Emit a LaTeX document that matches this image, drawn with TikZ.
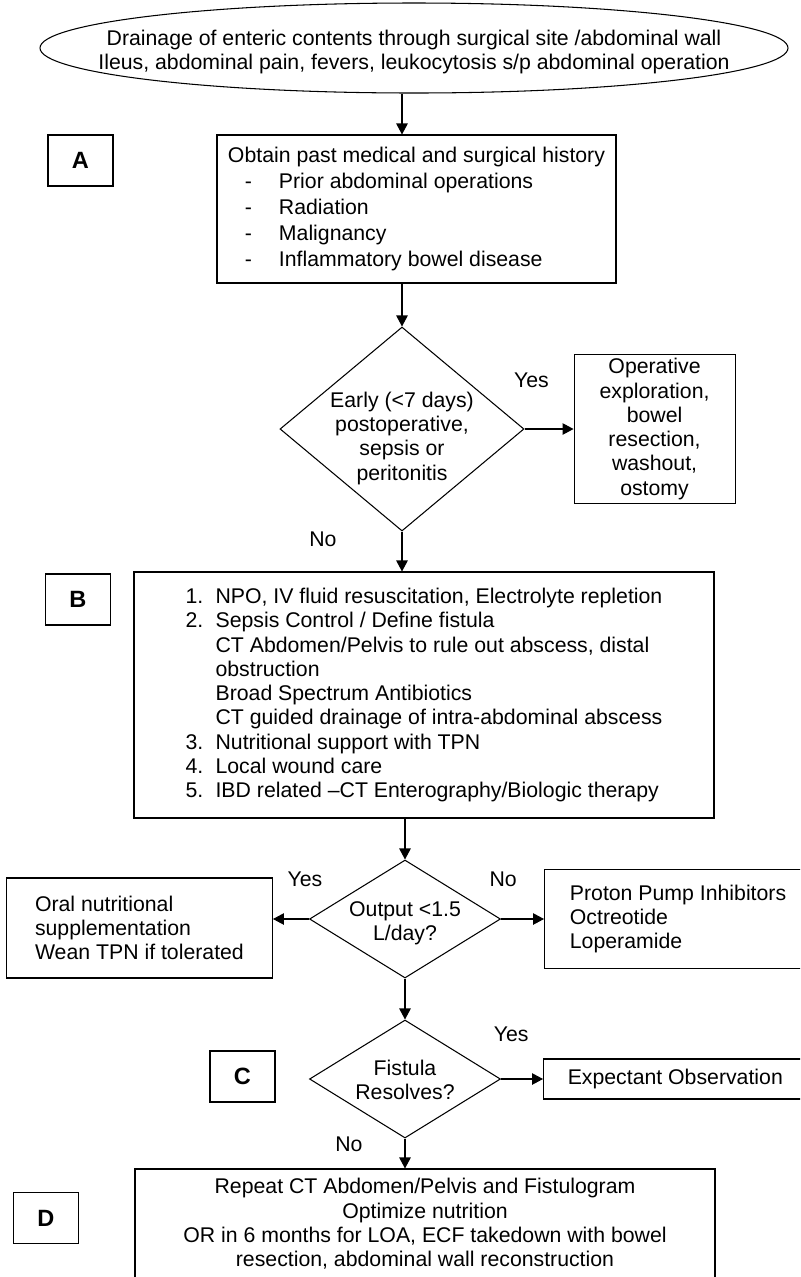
\documentclass[tikz,border=0pt]{standalone}
\usepackage{fontspec}
\setmainfont{Liberation Sans}
\usepackage{tikz}
\usetikzlibrary{arrows.meta}
\usetikzlibrary{shapes.geometric}
\usetikzlibrary{positioning}

\newcommand{\dashitem}[1]{\hspace*{3.4mm}\makebox[6.8mm][l]{-}#1}
\newcommand{\numitem}[2]{\makebox[6mm][l]{#1}#2}
\newcommand{\droptext}[2]{\raisebox{-#1}[\height][\depth]{\begin{tabular}{@{}c@{}}#2\end{tabular}}}

\begin{document}
\begin{tikzpicture}[->,>={Triangle[length=2.2mm,width=2.3mm]},x=0.2mm,y=0.2mm,
  line width=0.6pt,font=\fontsize{12.1pt}{13.8pt}\selectfont,
  plain box/.style={rectangle,draw,align=left,inner sep=0pt},
  decision node/.style={diamond,draw,inner sep=-3pt},
  tag node/.style={rectangle,draw,minimum width=13mm,minimum height=10.2mm,inner sep=0pt,
    font=\fontsize{13.4pt}{15pt}\selectfont\bfseries},
  branch label/.style={inner sep=0pt,text height=0.75em,text depth=0.25em}]

  \fill[white] (0,0) rectangle (800,-1277);
  \useasboundingbox (0,0) rectangle (800,-1277);
  \clip (0,0) rectangle (800,-1277);

  \node[ellipse,draw,minimum width=149.6mm,minimum height=18mm,inner xsep=-12mm,inner ysep=0pt] (start) at (414,-48)
    {\droptext{0.9mm}{Drainage of enteric contents through surgical site /abdominal wall\\
     Ileus, abdominal pain, fevers, leukocytosis s/p abdominal operation}};

  \node[plain box,minimum width=79.8mm,minimum height=29.6mm,
    font=\fontsize{12.1pt}{14.7pt}\selectfont] (history) at (416.5,-209)
    {Obtain past medical and surgical history\\
     \dashitem{Prior abdominal operations}\\
     \dashitem{Radiation}\\
     \dashitem{Malignancy}\\
     \dashitem{Inflammatory bowel disease}};

  \node[decision node,aspect=1.2,minimum width=48.8mm,minimum height=40.8mm] (early) at (402,-429)
    {\droptext{2mm}{Early (<7 days)\\postoperative,\\sepsis or\\peritonitis}};
  \node[plain box,align=center,minimum width=32.2mm,minimum height=29.8mm,right=9.8mm of early] (ops)
    {Operative\\exploration,\\bowel\\resection,\\washout,\\ostomy};

  \node[plain box,minimum width=116mm,minimum height=49.2mm] (plan) at (424,-695)
    {\numitem{1.}{NPO, IV fluid resuscitation, Electrolyte repletion}\\
     \numitem{2.}{Sepsis Control / Define fistula}\\
     \hspace*{6mm}CT Abdomen/Pelvis to rule out abscess, distal\\
     \hspace*{6mm}obstruction\\
     \hspace*{6mm}Broad Spectrum Antibiotics\\
     \hspace*{6mm}CT guided drainage of intra-abdominal abscess\\
     \numitem{3.}{Nutritional support with TPN}\\
     \numitem{4.}{Local wound care}\\
     \numitem{5.}{IBD related –CT Enterography/Biologic therapy}};

  \node[decision node,aspect=1.62,minimum width=38.2mm,minimum height=23.6mm] (output) at (405,-919)
    {\droptext{1mm}{Output <1.5\\L/day?}};
  \node[plain box,minimum width=53.2mm,minimum height=20mm,left=7.2mm of output,yshift=-1.8mm] (oral)
    {Oral nutritional\\supplementation\\Wean TPN if tolerated};
  \node[plain box,minimum width=53.4mm,minimum height=19.8mm,right=8.6mm of output] (ppi)
    {Proton Pump Inhibitors\\Octreotide\\Loperamide};

  \node[decision node,aspect=1.62,minimum width=38.2mm,minimum height=23.6mm] (resolve) at (405,-1079)
    {\droptext{0.8mm}{Fistula\\Resolves?}};
  \node[plain box,minimum width=52.7mm,minimum height=8mm,right=8.4mm of resolve] (expect)
    {Expectant Observation};

  \node[plain box,align=center,minimum width=116mm,minimum height=22mm] (final) at (425,-1224)
    {Repeat CT Abdomen/Pelvis and Fistulogram\\
     Optimize nutrition\\
     OR in 6 months for LOA, ECF takedown with bowel\\
     resection, abdominal wall reconstruction};

  \node[tag node] (tagA) at (80.5,-160.5) {A};
  \node[tag node] (tagB) at (78,-599.5) {B};
  \node[tag node] (tagC) at (242.5,-1076.5) {C};
  \node[tag node] (tagD) at (46,-1218) {D};

  \draw (start.south -| early.north) -- (history.north -| early.north);
  \draw (history.south -| early.north) -- (early.north);
  \draw (early.east) -- node[branch label,pos=0.14,above=7.4mm] {Yes} (ops.west |- early.east);
  \draw (early.south) -- node[branch label,pos=0.27,left=13mm] {No} (plan.north -| early.south);
  \draw (plan.south -| output.north) -- (output.north);
  \draw (output.west) -- node[branch label,pos=0.11,above=5.6mm] {Yes} (oral.east |- output.west);
  \draw (output.east) -- node[branch label,pos=0.05,above=5.6mm] {No} (ppi.west |- output.east);
  \draw (output.south) -- (resolve.north);
  \draw (resolve.east) -- node[branch label,pos=0.24,above=6.6mm] {Yes} (expect.west |- resolve.east);
  \draw (resolve.south) -- node[branch label,pos=0.29,left=8.4mm] {No} (final.north -| resolve.south);
\end{tikzpicture}
\end{document}
